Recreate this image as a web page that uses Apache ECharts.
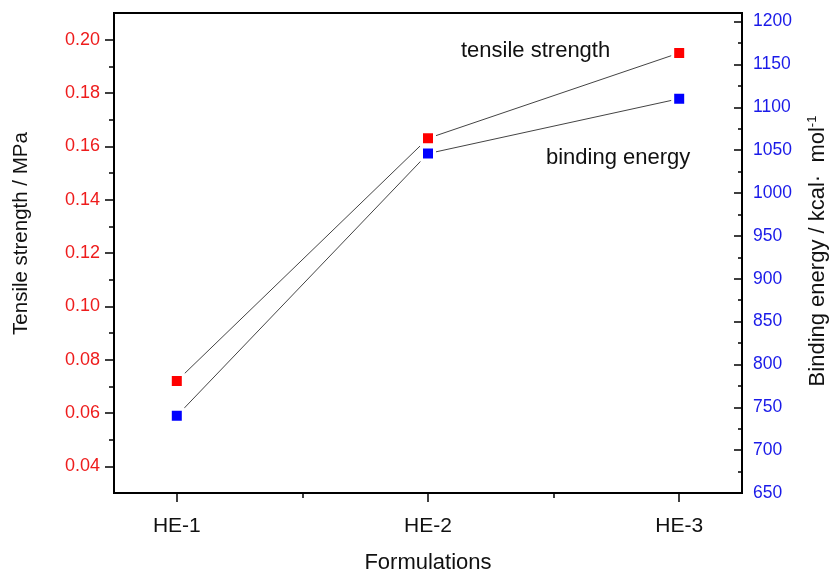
<!DOCTYPE html>
<html>
<head>
<meta charset="utf-8">
<script src="https://cdn.jsdelivr.net/npm/echarts@6/dist/echarts.min.js"></script>
<style>html,body{margin:0;padding:0;background:#fff}#c{width:834px;height:573px}</style>
</head>
<body>
<div id="c"></div>
<script>
var categories = ['HE-1', 'HE-2', 'HE-3'];
var xPositions = [1, 2, 3];
var xMinorTicks = [1.5, 2.5];
var tensileStrength = [0.072, 0.163, 0.195];
var bindingEnergy = [740, 1046, 1110];
var leftMajorTicks = [0.04, 0.06, 0.08, 0.10, 0.12, 0.14, 0.16, 0.18, 0.20];
var leftMinorTicks = [0.05, 0.07, 0.09, 0.11, 0.13, 0.15, 0.17, 0.19];
var rightMajorTicks = [650, 700, 750, 800, 850, 900, 950, 1000, 1050, 1100, 1150, 1200];
var rightMinorTicks = [675, 725, 775, 825, 875, 925, 975, 1025, 1075, 1125, 1175];

var FONT = '"Liberation Sans", Arial, sans-serif';
var RED = '#ee1c1c';
var BLUE = '#1a1ae8';

function pairs(ys) { return ys.map(function (y, i) { return [xPositions[i], y]; }); }

var chart = echarts.init(document.getElementById('c'), null, { renderer: 'canvas' });
chart.setOption({
  animation: false,
  backgroundColor: '#fff',
  grid: { left: 114, right: 92, top: 13, bottom: 80, outerBoundsMode: 'none', containLabel: false,
    show: true, borderColor: '#000', borderWidth: 2, backgroundColor: 'transparent' },
  xAxis: [
    {
      type: 'value', min: 0.75, max: 3.25, position: 'bottom',
      splitLine: { show: false },
      axisLine: { show: true, lineStyle: { color: '#000', width: 2 } },
      axisTick: { show: true, customValues: xPositions, length: 9, lineStyle: { color: '#000', width: 1.5 } },
      axisLabel: { customValues: xPositions, margin: 23, color: '#111', fontSize: 21, fontFamily: FONT,
        formatter: function (v) { return categories[Math.round(v) - 1] || ''; } },
      name: 'Formulations', nameLocation: 'middle', nameGap: 59,
      nameTextStyle: { color: '#111', fontSize: 22, fontFamily: FONT }
    },
    {
      type: 'value', min: 0.75, max: 3.25, position: 'bottom',
      splitLine: { show: false }, axisLine: { show: false },
      axisTick: { show: true, customValues: xMinorTicks, length: 5, lineStyle: { color: '#000', width: 1.5 } },
      axisLabel: { show: false }
    }
  ],
  yAxis: [
    {
      type: 'value', min: 0.03, max: 0.21, position: 'left',
      splitLine: { show: false },
      axisLine: { show: true, lineStyle: { color: '#000', width: 2 } },
      axisTick: { show: true, customValues: leftMajorTicks, length: 9, lineStyle: { color: '#000', width: 1.5 } },
      axisLabel: { customValues: leftMajorTicks, margin: 14, color: RED, fontSize: 18, fontFamily: FONT,
        formatter: function (v) { return v.toFixed(2); } },
      name: 'Tensile strength / MPa', nameLocation: 'middle', nameRotate: 90, nameGap: 82,
      nameTextStyle: { color: '#111', fontSize: 20.5, fontFamily: FONT, padding: [0, 0, 0, 39] }
    },
    {
      type: 'value', min: 0.03, max: 0.21, position: 'left',
      splitLine: { show: false }, axisLine: { show: false },
      axisTick: { show: true, customValues: leftMinorTicks, length: 5, lineStyle: { color: '#000', width: 1.5 } },
      axisLabel: { show: false }
    },
    {
      type: 'value', min: 650, max: 1210, position: 'right',
      splitLine: { show: false },
      axisLine: { show: true, lineStyle: { color: '#000', width: 2 } },
      axisTick: { show: true, inside: true, customValues: rightMajorTicks, length: 8, lineStyle: { color: '#000', width: 1.5 } },
      axisLabel: { customValues: rightMajorTicks, margin: 11, color: BLUE, fontSize: 17.5, fontFamily: FONT,
        formatter: function (v) { return String(Math.round(v)); } },
      name: 'Binding energy / kcal·  mol{sup|-1}', nameLocation: 'middle', nameRotate: 90, nameGap: 64,
      nameTextStyle: { color: '#111', fontSize: 22, fontFamily: FONT, padding: [0, 0, 0, 4],
        rich: { sup: { fontSize: 13, fontFamily: FONT, color: '#111', verticalAlign: 'top', padding: [0, 0, 10, 0] } } }
    },
    {
      type: 'value', min: 650, max: 1210, position: 'right',
      splitLine: { show: false }, axisLine: { show: false },
      axisTick: { show: true, inside: true, customValues: rightMinorTicks, length: 4, lineStyle: { color: '#000', width: 1.5 } },
      axisLabel: { show: false }
    }
  ],
  series: [
    {
      name: 'tensile strength', type: 'line', xAxisIndex: 0, yAxisIndex: 0,
      data: pairs(tensileStrength),
      symbol: 'rect', symbolSize: 13,
      lineStyle: { color: '#444', width: 1 },
      itemStyle: { color: '#ff0000', borderColor: '#fff', borderWidth: 3 },
      z: 3
    },
    {
      name: 'binding energy', type: 'line', xAxisIndex: 0, yAxisIndex: 2,
      data: pairs(bindingEnergy),
      symbol: 'rect', symbolSize: 13,
      lineStyle: { color: '#444', width: 1 },
      itemStyle: { color: '#0000ff', borderColor: '#fff', borderWidth: 3 },
      z: 3
    }
  ],
  graphic: [
    { type: 'text', left: 461, top: 40, style: { text: 'tensile strength', fill: '#111', font: '22px ' + FONT } },
    { type: 'text', left: 546, top: 147, style: { text: 'binding energy', fill: '#111', font: '22px ' + FONT } }
  ]
});
</script>
</body>
</html>
